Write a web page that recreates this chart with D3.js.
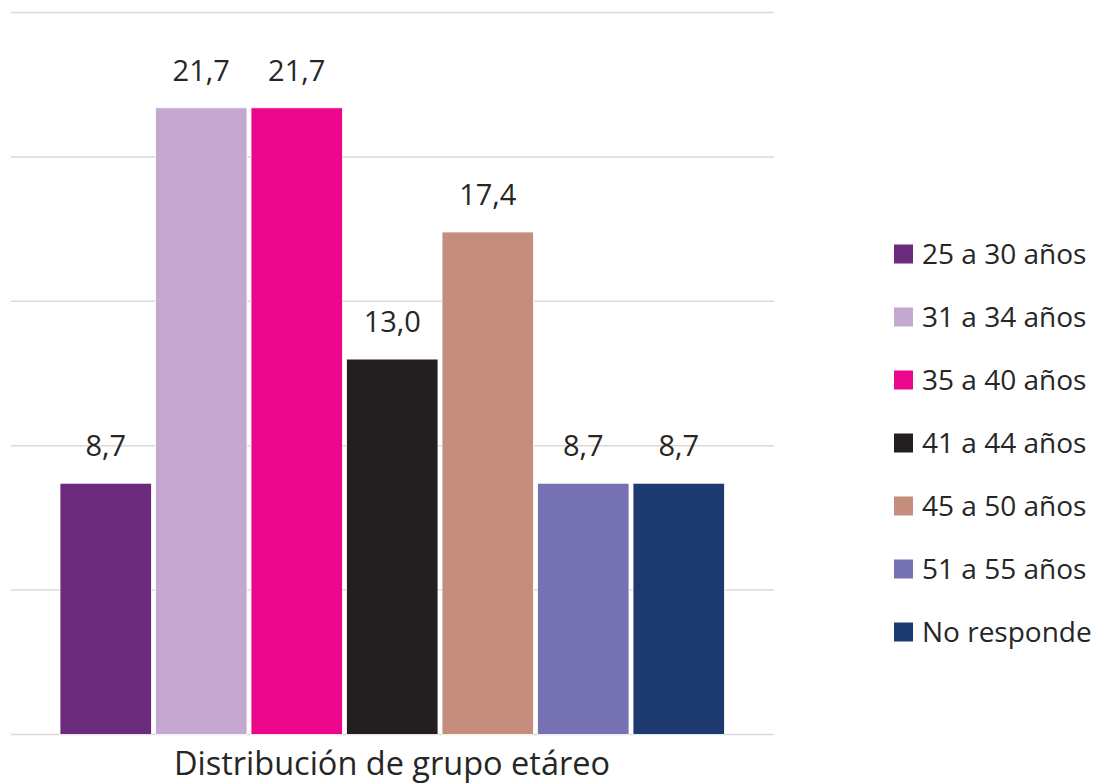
<!DOCTYPE html>
<html>
<head>
<meta charset="utf-8">
<script src="https://cdn.jsdelivr.net/npm/d3@7"></script>
<style>
  body { margin: 0; background: #fff; }
  text { font-family: 'Open Sans', sans-serif; fill: #262626; }
</style>
</head>
<body>
<div id="chart"></div>
<script>
// data
const categories = ['25 a 30 años', '31 a 34 años', '35 a 40 años', '41 a 44 años', '45 a 50 años', '51 a 55 años', 'No responde'];
const values = [8.7, 21.7, 21.7, 13.0, 17.4, 8.7, 8.7];
const colors = ['#6c2a7c', '#c4a8cf', '#ec068c', '#231f20', '#c58d7b', '#7671b2', '#1c3a6f'];
const yTicks = [0, 5, 10, 15, 20, 25];
const axisTitle = 'Distribución de grupo etáreo';

const width = 1109, height = 784;
const data = categories.map((c, i) => ({ cat: c, value: values[i], color: colors[i] }));

const svg = d3.select('#chart')
  .append('svg')
    .attr('width', width)
    .attr('height', height);

// scales
const y = d3.scaleLinear()
  .domain([0, 25])
  .range([734.5, 12.5]);

const x = d3.scaleBand()
  .domain(categories)
  .range([60, 724.5])
  .paddingInner(0.042);

// gridlines
svg.append('g')
  .selectAll('line')
  .data(yTicks)
  .enter()
  .append('line')
    .attr('x1', 11)
    .attr('x2', 774)
    .attr('y1', d => y(d))
    .attr('y2', d => y(d))
    .attr('stroke', '#d9d9d9')
    .attr('stroke-width', 1.5);

// bars
svg.append('g')
  .selectAll('rect')
  .data(data)
  .enter()
  .append('rect')
    .attr('x', d => x(d.cat))
    .attr('y', d => y(d.value))
    .attr('width', x.bandwidth())
    .attr('height', d => y(0) - y(d.value))
    .attr('fill', d => d.color)
    .attr('stroke', '#fff')
    .attr('stroke-width', 0.8);

// value labels
svg.append('g')
  .selectAll('text')
  .data(data)
  .enter()
  .append('text')
    .attr('x', d => x(d.cat) + x.bandwidth() / 2)
    .attr('y', d => y(d.value) - 27)
    .attr('text-anchor', 'middle')
    .style('font-size', '29px')
    .text(d => d.value.toFixed(1).replace('.', ','));

// axis title
svg.append('text')
  .attr('x', 392)
  .attr('y', 775)
  .attr('text-anchor', 'middle')
  .style('font-size', '32.5px')
  .text(axisTitle);

// legend
const legend = svg.append('g')
  .selectAll('g')
  .data(data)
  .enter()
  .append('g')
    .attr('transform', (d, i) => 'translate(894,' + (254 + i * 63) + ')');

legend.append('rect')
  .attr('x', 0)
  .attr('y', -9.5)
  .attr('width', 19)
  .attr('height', 19)
  .attr('fill', d => d.color);

legend.append('text')
  .attr('x', 28)
  .attr('y', 10)
  .style('font-size', '28px')
  .text(d => d.cat);
</script>
</body>
</html>
